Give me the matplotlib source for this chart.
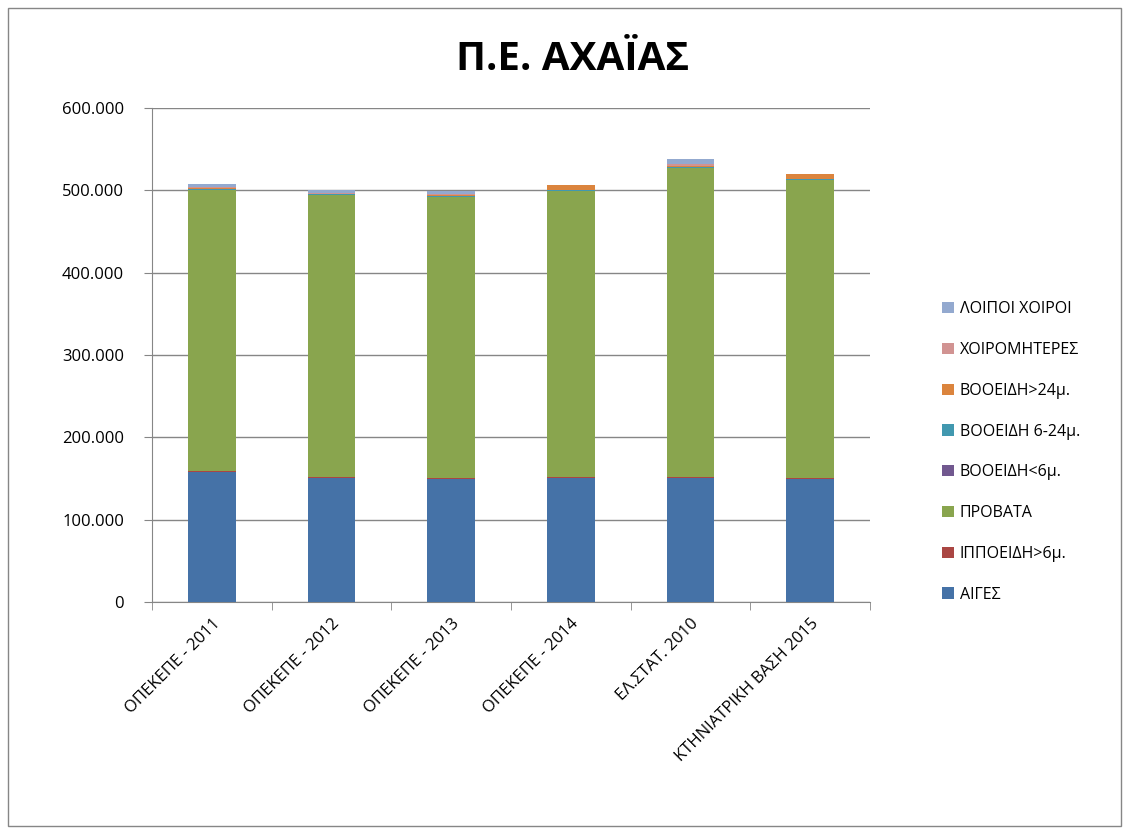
import matplotlib
matplotlib.use('Agg')
import matplotlib.pyplot as plt
import matplotlib.ticker as mticker
from matplotlib.patches import Rectangle
import numpy as np

plt.rcParams['font.family'] = ['Open Sans', 'DejaVu Sans']

categories = ['ΟΠΕΚΕΠΕ - 2011', 'ΟΠΕΚΕΠΕ - 2012', 'ΟΠΕΚΕΠΕ - 2013',
              'ΟΠΕΚΕΠΕ - 2014', 'ΕΛ.ΣΤΑΤ. 2010', 'ΚΤΗΝΙΑΤΡΙΚΗ ΒΑΣΗ 2015']

# series, bottom to top
aiges = [158000, 151000, 150000, 151000, 151000, 150000]
ippoeidi = [1200, 1000, 1000, 1000, 1200, 1000]
provata = [341000, 342000, 341000, 347000, 375000, 361000]
vooeidi_6 = [500, 400, 400, 600, 500, 600]
vooeidi_6_24 = [700, 600, 600, 800, 800, 900]
vooeidi_24 = [1200, 1000, 1000, 5500, 1500, 6000]
xoiromitires = [1000, 900, 1000, 400, 1500, 500]
loipoi_xoiroi = [3500, 3600, 4500, 300, 7000, 400]

series = [
    ('ΑΙΓΕΣ', aiges, '#4572A7'),
    ('ΙΠΠΟΕΙΔΗ>6μ.', ippoeidi, '#AA4643'),
    ('ΠΡΟΒΑΤΑ', provata, '#89A54E'),
    ('ΒΟΟΕΙΔΗ<6μ.', vooeidi_6, '#71588F'),
    ('ΒΟΟΕΙΔΗ 6-24μ.', vooeidi_6_24, '#4198AF'),
    ('ΒΟΟΕΙΔΗ>24μ.', vooeidi_24, '#DB843D'),
    ('ΧΟΙΡΟΜΗΤΕΡΕΣ', xoiromitires, '#D19392'),
    ('ΛΟΙΠΟΙ ΧΟΙΡΟΙ', loipoi_xoiroi, '#93A9CF'),
]

fig = plt.figure(figsize=(11.29, 8.34), dpi=100)
ax = fig.add_axes([152/1129, 1 - 602/834, (870-152)/1129, (602-108)/834])

x = np.arange(len(categories))
bottom = np.zeros(len(categories))
handles = []
for name, vals, col in series:
    b = ax.bar(x, vals, 0.4, bottom=bottom, color=col, label=name, zorder=3)
    handles.append(b)
    bottom += np.array(vals)

ax.set_xlim(-0.5, len(categories) - 0.5)
ax.set_ylim(0, 600000)
ax.set_yticks(np.arange(0, 600001, 100000))
ax.yaxis.set_major_formatter(mticker.FuncFormatter(
    lambda v, p: '0' if v == 0 else f'{int(v):,}'.replace(',', '.')))
ax.grid(axis='y', color='#868686', linewidth=1, zorder=0)

ax.set_xticks(x)
ax.set_xticklabels(categories, rotation=45, ha='right', rotation_mode='anchor',
                   fontsize=12)
ax.tick_params(axis='x', length=0, pad=10)
ax.set_xticks(np.arange(-0.5, len(categories)), minor=True)
ax.tick_params(axis='x', which='minor', length=6, color='#868686')
ax.tick_params(axis='y', length=6, color='#868686', labelsize=12, pad=14)

for s in ['top', 'right']:
    ax.spines[s].set_visible(False)
for s in ['left', 'bottom']:
    ax.spines[s].set_color('#868686')

fig.text(573/1129, 1 - 59/834, 'Π.Ε. ΑΧΑΪΑΣ', ha='center', va='center',
         fontsize=29, fontweight='bold')

fig.legend(handles[::-1], [s[0] for s in series][::-1],
           loc='center left', bbox_to_anchor=(928/1129, 1 - 452/834),
           frameon=False, fontsize=11.5, handlelength=0.7, handleheight=0.7,
           handletextpad=0.4, labelspacing=1.55)

fig.patches.append(Rectangle((8/1129, 8/834), 1113/1129, 818/834,
                             transform=fig.transFigure, fill=False,
                             edgecolor='#868686', linewidth=1))

fig.savefig('out.png', dpi=100)
